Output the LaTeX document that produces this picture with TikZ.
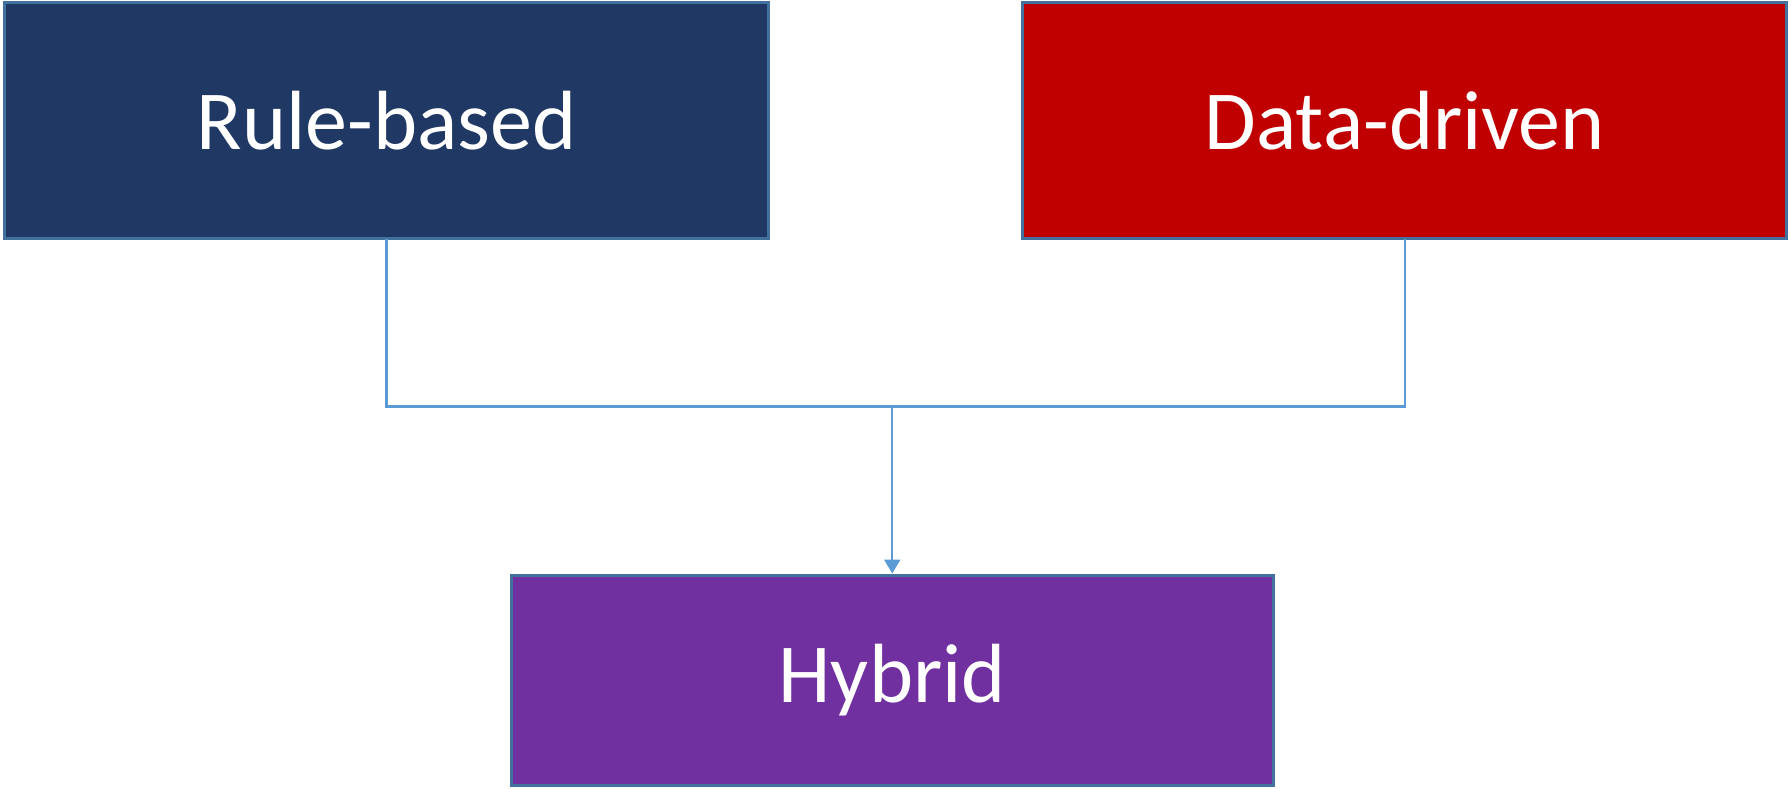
\documentclass[tikz,border=0pt]{standalone}
\usepackage{fontspec}
\setmainfont{Carlito}
\usetikzlibrary{arrows.meta}
\definecolor{navy}{HTML}{1F3864}
\definecolor{crimson}{HTML}{C00000}
\definecolor{plum}{HTML}{7030A0}
\definecolor{edge}{HTML}{41719C}
\definecolor{link}{HTML}{5B9BD5}
\begin{document}
\begin{tikzpicture}[x=1pt,y=-1pt,
  box/.style={draw=edge, line width=3pt, text=white, font=\fontsize{84}{100}\selectfont,
    inner sep=0pt, outer sep=0pt, minimum width=764pt, minimum height=236pt},
  link/.style={draw=link, line width=2.2pt}]
  \useasboundingbox (0,0) rectangle (1791,788);
  % the three approach boxes
  \node[box, fill=navy] (rule) at (386.5,120.5) {Rule-based};
  \node[box, fill=crimson] (data) at (1404.75,120.5) {Data-driven};
  \node[box, fill=plum, minimum width=761.5pt, minimum height=210pt] (hyb) at (892.25,680) {Hybrid};
  % junction where both branches meet
  \coordinate (hj) at ([yshift=-168pt]rule.south -| hyb.north);
  \draw[link] (rule.south) |- (hj) -| (data.south);
  \draw[link, -{Triangle[length=14pt,width=16pt]}] (hj) -- ([yshift=1.5pt]hyb.north);
\end{tikzpicture}
\end{document}
